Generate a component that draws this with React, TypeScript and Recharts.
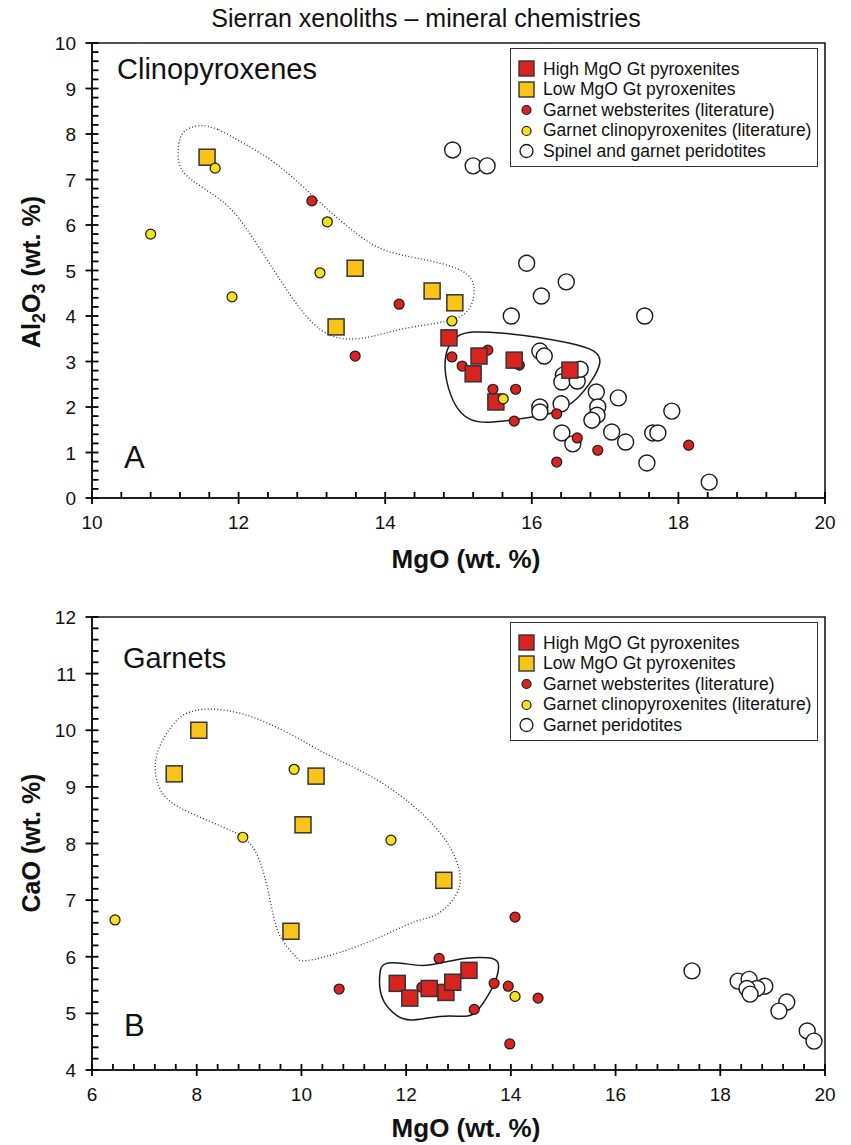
import React from "react";
import { ScatterChart, Scatter, XAxis, YAxis, ReferenceArea, ReferenceLine } from "recharts";

// ---- panel A: clinopyroxenes (MgO vs Al2O3) ----
const hiMgoCpx = [
  { x: 14.87, y: 3.52 }, { x: 15.28, y: 3.12 }, { x: 15.2, y: 2.73 },
  { x: 15.76, y: 3.03 }, { x: 15.51, y: 2.11 }, { x: 16.52, y: 2.81 },
];
const loMgoCpx = [
  { x: 11.57, y: 7.49 }, { x: 13.59, y: 5.05 }, { x: 13.33, y: 3.76 },
  { x: 14.64, y: 4.55 }, { x: 14.95, y: 4.29 },
];
const websteriteCpx = [
  { x: 13.0, y: 6.53 }, { x: 14.19, y: 4.26 }, { x: 13.59, y: 3.12 }, { x: 14.91, y: 3.1 },
  { x: 15.05, y: 2.9 }, { x: 15.4, y: 3.25 }, { x: 15.83, y: 2.92 }, { x: 15.47, y: 2.39 },
  { x: 15.78, y: 2.39 }, { x: 15.76, y: 1.69 }, { x: 16.34, y: 1.85 }, { x: 16.62, y: 1.32 },
  { x: 16.9, y: 1.05 }, { x: 16.34, y: 0.79 }, { x: 18.14, y: 1.16 },
];
const clinoCpx = [
  { x: 11.68, y: 7.25 }, { x: 10.8, y: 5.8 }, { x: 11.91, y: 4.42 }, { x: 13.21, y: 6.07 },
  { x: 13.11, y: 4.95 }, { x: 14.91, y: 3.89 }, { x: 15.61, y: 2.18 },
];
const peridotiteCpx = [
  { x: 14.92, y: 7.65 }, { x: 15.2, y: 7.3 }, { x: 15.39, y: 7.3 }, { x: 15.93, y: 5.16 },
  { x: 16.47, y: 4.75 }, { x: 16.13, y: 4.44 }, { x: 15.72, y: 4.0 }, { x: 17.54, y: 4.0 },
  { x: 16.11, y: 3.23 }, { x: 16.17, y: 3.12 }, { x: 16.43, y: 2.7 }, { x: 16.41, y: 2.55 },
  { x: 16.62, y: 2.57 }, { x: 16.66, y: 2.83 }, { x: 16.88, y: 2.33 }, { x: 17.18, y: 2.2 },
  { x: 16.9, y: 2.0 }, { x: 16.89, y: 1.82 }, { x: 16.82, y: 1.71 }, { x: 16.11, y: 2.0 },
  { x: 16.11, y: 1.89 }, { x: 16.4, y: 2.07 }, { x: 16.41, y: 1.43 }, { x: 16.56, y: 1.19 },
  { x: 17.09, y: 1.45 }, { x: 17.28, y: 1.23 }, { x: 17.65, y: 1.43 }, { x: 17.72, y: 1.43 },
  { x: 17.91, y: 1.91 }, { x: 17.57, y: 0.77 }, { x: 18.42, y: 0.35 },
];
const loFieldCpx = [
  { x: 11.47, y: 8.22 }, { x: 11.71, y: 8.13 }, { x: 12.06, y: 7.8 }, { x: 12.52, y: 7.38 },
  { x: 12.97, y: 6.7 }, { x: 13.42, y: 6.04 }, { x: 13.89, y: 5.45 }, { x: 14.34, y: 5.3 },
  { x: 14.79, y: 5.16 }, { x: 15.16, y: 4.95 }, { x: 15.24, y: 4.57 }, { x: 15.16, y: 4.07 },
  { x: 14.88, y: 3.87 }, { x: 14.24, y: 3.74 }, { x: 13.93, y: 3.58 }, { x: 13.52, y: 3.45 },
  { x: 13.15, y: 3.58 }, { x: 12.8, y: 4.2 }, { x: 12.39, y: 5.23 }, { x: 11.98, y: 6.26 },
  { x: 11.71, y: 6.62 }, { x: 11.34, y: 6.99 }, { x: 11.17, y: 7.27 }, { x: 11.17, y: 7.8 },
  { x: 11.24, y: 8.09 },
];
const hiFieldCpx = [
  { x: 15.16, y: 3.67 }, { x: 15.61, y: 3.63 }, { x: 16.07, y: 3.54 }, { x: 16.52, y: 3.41 },
  { x: 16.89, y: 3.25 }, { x: 16.96, y: 2.99 }, { x: 16.83, y: 2.59 }, { x: 16.62, y: 2.15 },
  { x: 16.34, y: 1.87 }, { x: 16.02, y: 1.78 }, { x: 15.74, y: 1.71 }, { x: 15.39, y: 1.65 },
  { x: 15.16, y: 1.69 }, { x: 14.98, y: 1.93 }, { x: 14.86, y: 2.37 }, { x: 14.8, y: 2.88 },
  { x: 14.84, y: 3.32 }, { x: 14.98, y: 3.58 },
];

// ---- panel B: garnets (MgO vs CaO) ----
const hiMgoGt = [
  { x: 11.83, y: 5.53 }, { x: 12.07, y: 5.27 }, { x: 12.44, y: 5.44 },
  { x: 12.76, y: 5.37 }, { x: 12.89, y: 5.55 }, { x: 13.2, y: 5.76 },
];
const loMgoGt = [
  { x: 8.04, y: 10.0 }, { x: 7.57, y: 9.23 }, { x: 10.28, y: 9.19 },
  { x: 10.03, y: 8.33 }, { x: 12.72, y: 7.35 }, { x: 9.8, y: 6.45 },
];
const websteriteGt = [
  { x: 10.72, y: 5.43 }, { x: 12.63, y: 5.97 }, { x: 14.08, y: 6.7 }, { x: 13.68, y: 5.53 },
  { x: 13.95, y: 5.48 }, { x: 14.52, y: 5.27 }, { x: 13.3, y: 5.07 }, { x: 13.98, y: 4.46 },
  { x: 12.3, y: 5.46 },
];
const clinoGt = [
  { x: 9.86, y: 9.31 }, { x: 8.88, y: 8.11 }, { x: 11.71, y: 8.06 }, { x: 6.44, y: 6.65 },
  { x: 14.08, y: 5.3 },
];
const peridotiteGt = [
  { x: 17.46, y: 5.75 }, { x: 18.34, y: 5.57 }, { x: 18.55, y: 5.6 }, { x: 18.85, y: 5.48 },
  { x: 18.7, y: 5.44 }, { x: 18.51, y: 5.44 }, { x: 18.57, y: 5.34 }, { x: 19.27, y: 5.2 },
  { x: 19.12, y: 5.04 }, { x: 19.66, y: 4.69 }, { x: 19.79, y: 4.51 },
];
const loFieldGt = [
  { x: 8.31, y: 10.39 }, { x: 8.96, y: 10.3 }, { x: 9.78, y: 9.95 }, { x: 10.55, y: 9.53 },
  { x: 11.06, y: 9.33 }, { x: 11.69, y: 9.0 }, { x: 12.32, y: 8.54 }, { x: 12.84, y: 8.01 },
  { x: 13.09, y: 7.41 }, { x: 12.97, y: 7.05 }, { x: 12.59, y: 6.7 }, { x: 12.21, y: 6.66 },
  { x: 11.69, y: 6.42 }, { x: 11.06, y: 6.17 }, { x: 10.41, y: 5.98 }, { x: 9.97, y: 5.9 },
  { x: 9.92, y: 5.98 }, { x: 9.53, y: 6.35 }, { x: 9.4, y: 7.05 }, { x: 9.21, y: 7.76 },
  { x: 8.96, y: 8.11 }, { x: 8.5, y: 8.29 }, { x: 7.87, y: 8.54 }, { x: 7.36, y: 8.77 },
  { x: 7.17, y: 9.24 }, { x: 7.24, y: 9.7 }, { x: 7.62, y: 10.23 }, { x: 7.93, y: 10.36 },
];
const hiFieldGt = [
  { x: 11.54, y: 5.89 }, { x: 11.88, y: 5.9 }, { x: 12.32, y: 5.82 }, { x: 12.7, y: 5.9 },
  { x: 13.16, y: 5.99 }, { x: 13.6, y: 5.99 }, { x: 13.79, y: 5.94 }, { x: 13.75, y: 5.64 },
  { x: 13.6, y: 5.36 }, { x: 13.35, y: 5.0 }, { x: 13.16, y: 4.93 }, { x: 12.84, y: 4.97 },
  { x: 12.4, y: 4.92 }, { x: 12.07, y: 4.86 }, { x: 11.83, y: 4.93 }, { x: 11.56, y: 5.18 },
  { x: 11.48, y: 5.46 }, { x: 11.5, y: 5.76 },
];

// axis ticks: minor steps (0.4 on x, 0.2 on y); labelled majors every 2 / every 1
const xTicksA = Array.from({ length: 26 }, (_, i) => +(10 + i * 0.4).toFixed(1));
const yTicksA = Array.from({ length: 51 }, (_, i) => +(i * 0.2).toFixed(1));
const xTicksB = Array.from({ length: 36 }, (_, i) => +(6 + i * 0.4).toFixed(1));
const yTicksB = Array.from({ length: 41 }, (_, i) => +(4 + i * 0.2).toFixed(1));

const legendA = ["High MgO Gt pyroxenites", "Low MgO Gt pyroxenites", "Garnet websterites (literature)", "Garnet clinopyroxenites (literature)", "Spinel and garnet peridotites"];
const legendB = ["High MgO Gt pyroxenites", "Low MgO Gt pyroxenites", "Garnet websterites (literature)", "Garnet clinopyroxenites (literature)", "Garnet peridotites"];

const RED = "#d8231f";
const GOLD = "#f9c417";
const YELLOW = "#f6df1f";
const INK = "#1a1a1a";
const FONT = "'Liberation Sans', Arial, Helvetica, sans-serif";

const PLOT_W = 733; // plot box width in px (both panels)

const isMajor = (v: number, step: number) => Math.abs(v / step - Math.round(v / step)) < 1e-6;

const xLabel = (p: any) => {
  const v = p.payload.value;
  if (!isMajor(v, 2)) return <g />;
  return (
    <text x={p.x} y={p.y + 31} textAnchor="middle" fontSize={19} fontFamily={FONT} fill="#111">{v}</text>
  );
};
const yLabel = (p: any) => {
  const v = p.payload.value;
  if (!isMajor(v, 1)) return <g />;
  return (
    <text x={p.x - 16} y={p.y + 7} textAnchor="end" fontSize={19} fontFamily={FONT} fill="#111">{v}</text>
  );
};

const square = (fill: string) => (p: any) => (
  <rect x={p.cx - 8} y={p.cy - 8} width={16} height={16} fill={fill} stroke="#333" strokeWidth={1.5} />
);
const dot = (fill: string) => (p: any) => (
  <circle cx={p.cx} cy={p.cy} r={5} fill={fill} stroke={INK} strokeWidth={1.2} />
);
const ring = (p: any) => <circle cx={p.cx} cy={p.cy} r={8} fill="#fff" stroke={INK} strokeWidth={1.4} />;
const nothing = () => <g />;

function Panel(props: {
  height: number; mTop: number; mBottom: number;
  xDomain: [number, number]; yDomain: [number, number];
  xTicks: number[]; yTicks: number[];
  hi: any[]; lo: any[]; web: any[]; clino: any[]; peri: any[];
  loField: any[]; hiField: any[];
}) {
  const { xDomain, yDomain } = props;
  const plotH = props.height - props.mTop - props.mBottom - 30;
  // tick lengths converted from px into data units so they go through the scales
  const dy = (6 * (yDomain[1] - yDomain[0])) / plotH;
  const dx = (6.5 * (xDomain[1] - xDomain[0])) / PLOT_W;
  const tickStyle = { stroke: "#000", strokeWidth: 1.8 };
  return (
    <ScatterChart width={851} height={props.height} margin={{ top: props.mTop, right: 26, left: 32, bottom: props.mBottom }}>
      <ReferenceArea x1={xDomain[0]} x2={xDomain[1]} y1={yDomain[0]} y2={yDomain[1]}
        fill="none" stroke={INK} strokeWidth={1.6} />
      {props.xTicks.map((v) => (
        <ReferenceLine key={"xt" + v} ifOverflow="visible" {...tickStyle}
          segment={[{ x: v, y: isMajor(v, 2) ? yDomain[0] - dy : yDomain[0] }, { x: v, y: yDomain[0] + dy }]} />
      ))}
      {props.yTicks.map((v) => (
        <ReferenceLine key={"yt" + v} ifOverflow="visible" {...tickStyle}
          segment={[{ x: isMajor(v, 1) ? xDomain[0] - dx : xDomain[0], y: v }, { x: xDomain[0] + dx, y: v }]} />
      ))}
      <Scatter data={props.loField} shape={nothing} lineJointType="basisClosed" isAnimationActive={false}
        line={{ stroke: "#333", strokeWidth: 1.3, strokeDasharray: "1 2.2", fill: "none" }} />
      <Scatter data={props.hiField} shape={nothing} lineJointType="basisClosed" isAnimationActive={false}
        line={{ stroke: INK, strokeWidth: 1.5, fill: "none" }} />
      <Scatter data={props.peri} shape={ring} isAnimationActive={false} />
      <Scatter data={props.web} shape={dot(RED)} isAnimationActive={false} />
      <Scatter data={props.lo} shape={square(GOLD)} isAnimationActive={false} />
      <Scatter data={props.hi} shape={square(RED)} isAnimationActive={false} />
      <Scatter data={props.clino} shape={dot(YELLOW)} isAnimationActive={false} />
      <XAxis type="number" dataKey="x" domain={xDomain} ticks={props.xTicks} interval={0} height={30}
        axisLine={{ stroke: "#111", strokeWidth: 1.6 }} tickLine={false} tickSize={0} tickMargin={0} tick={xLabel} />
      <YAxis type="number" dataKey="y" domain={yDomain} ticks={props.yTicks} interval={0} width={60}
        axisLine={{ stroke: "#111", strokeWidth: 1.6 }} tickLine={false} tickSize={0} tickMargin={0} tick={yLabel} />
    </ScatterChart>
  );
}

function LegendBox({ top, items }: { top: number; items: string[] }) {
  const symbols = [
    <rect key="a" x={2} y={2} width={15} height={15} fill={RED} stroke="#333" strokeWidth={1.4} />,
    <rect key="b" x={2} y={2} width={15} height={15} fill={GOLD} stroke="#333" strokeWidth={1.4} />,
    <circle key="c" cx={9.5} cy={10} r={4.5} fill={RED} stroke={INK} strokeWidth={1.2} />,
    <circle key="d" cx={9.5} cy={10} r={4.5} fill={YELLOW} stroke={INK} strokeWidth={1.2} />,
    <circle key="e" cx={9.5} cy={10} r={6.5} fill="#fff" stroke={INK} strokeWidth={1.3} />,
  ];
  return (
    <div style={{
      position: "absolute", left: 510, top, width: 308, height: 119, border: "1.5px solid #333",
      background: "#fff", fontFamily: FONT, fontSize: 17.5, color: "#111", boxSizing: "border-box",
      paddingTop: 10, paddingLeft: 6,
    }}>
      {items.map((t, i) => (
        <div key={t} style={{ display: "flex", alignItems: "center", height: 20.5 }}>
          <svg width={20} height={20} style={{ flexShrink: 0 }}>{symbols[i]}</svg>
          <span style={{ marginLeft: 6, whiteSpace: "nowrap" }}>{t}</span>
        </div>
      ))}
    </div>
  );
}

function Labels() {
  return (
    <svg width={851} height={1145} style={{ position: "absolute", left: 0, top: 0, pointerEvents: "none" }}>
      <g fontFamily={FONT} fill="#111">
        <text x={426} y={27} textAnchor="middle" fontSize={25}>Sierran xenoliths – mineral chemistries</text>
        <text x={117} y={79} fontSize={29}>Clinopyroxenes</text>
        <text x={124} y={468} fontSize={31}>A</text>
        <text x={123} y={668} fontSize={29}>Garnets</text>
        <text x={124} y={1036} fontSize={31}>B</text>
        <text x={466} y={568} textAnchor="middle" fontSize={26} fontWeight="bold">MgO (wt. %)</text>
        <text x={466} y={1137} textAnchor="middle" fontSize={26} fontWeight="bold">MgO (wt. %)</text>
        <text transform="translate(40,272) rotate(-90)" textAnchor="middle" fontSize={25} fontWeight="bold">
          Al<tspan fontSize={18} dy={5}>2</tspan><tspan dy={-5}>O</tspan><tspan fontSize={18} dy={5}>3</tspan><tspan dy={-5}> (wt. %)</tspan>
        </text>
        <text transform="translate(40,843) rotate(-90)" textAnchor="middle" fontSize={25} fontWeight="bold">CaO (wt. %)</text>
      </g>
    </svg>
  );
}

export default function App() {
  return (
    <div style={{ position: "absolute", left: 0, top: 0, width: 851, height: 1145 }}>
      <div style={{ position: "absolute", left: 0, top: 0 }}>
        <Panel height={575} mTop={43} mBottom={47} xDomain={[10, 20]} yDomain={[0, 10]}
          xTicks={xTicksA} yTicks={yTicksA} hi={hiMgoCpx} lo={loMgoCpx} web={websteriteCpx}
          clino={clinoCpx} peri={peridotiteCpx} loField={loFieldCpx} hiField={hiFieldCpx} />
      </div>
      <div style={{ position: "absolute", left: 0, top: 575 }}>
        <Panel height={570} mTop={42} mBottom={45} xDomain={[6, 20]} yDomain={[4, 12]}
          xTicks={xTicksB} yTicks={yTicksB} hi={hiMgoGt} lo={loMgoGt} web={websteriteGt}
          clino={clinoGt} peri={peridotiteGt} loField={loFieldGt} hiField={hiFieldGt} />
      </div>
      <Labels />
      <LegendBox top={48} items={legendA} />
      <LegendBox top={622} items={legendB} />
    </div>
  );
}
